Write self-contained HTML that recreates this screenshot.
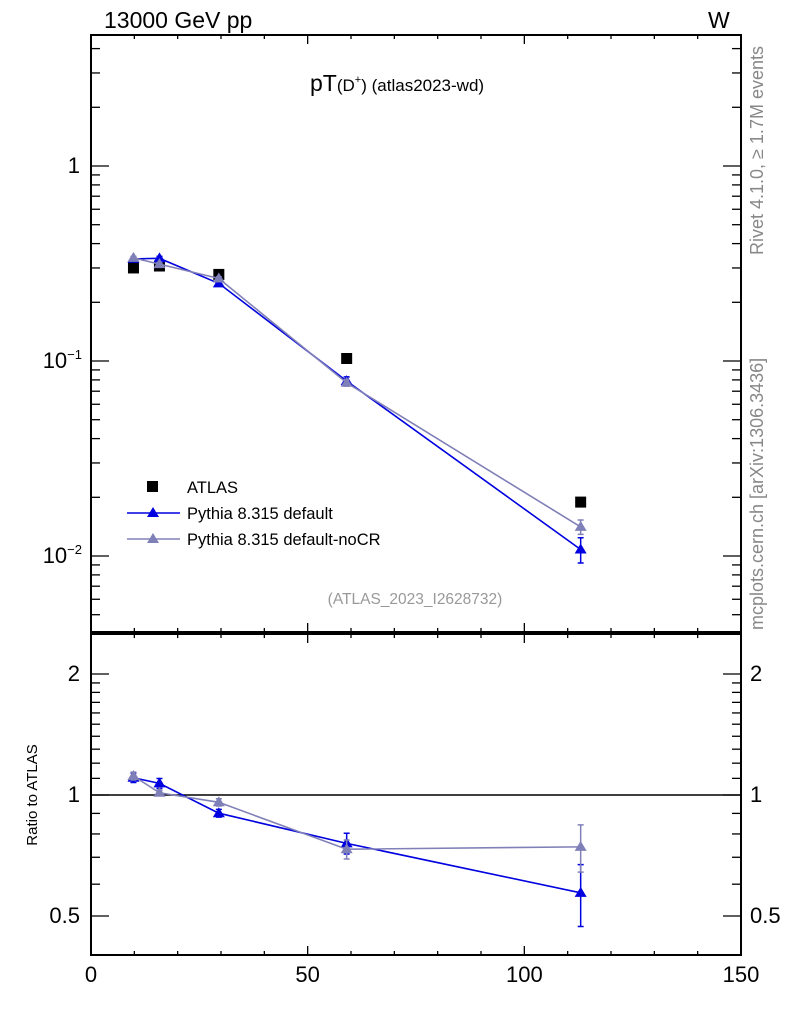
<!DOCTYPE html>
<html><head><meta charset="utf-8"><style>
body{margin:0;background:#fff;font-family:"Liberation Sans",sans-serif}
svg text{font-family:"Liberation Sans",sans-serif}
</style></head><body>
<svg id="c" width="786" height="1024" xmlns="http://www.w3.org/2000/svg">
<text x="104" y="28" font-size="23">13000 GeV pp</text>
<text x="708" y="28" font-size="23">W</text>
<text x="310" y="91" font-size="23">pT<tspan font-size="17">(D</tspan><tspan font-size="11" dy="-8">+</tspan><tspan font-size="17" dy="8">) (atlas2023-wd)</tspan></text>
<text x="415" y="604" font-size="15.5" fill="#999" text-anchor="middle">(ATLAS_2023_I2628732)</text>
<text transform="translate(763,255) rotate(-90)" font-size="18" fill="#888">Rivet 4.1.0, ≥ 1.7M events</text>
<text transform="translate(763,630) rotate(-90)" font-size="18" fill="#888">mcplots.cern.ch [arXiv:1306.3436]</text>
<text transform="translate(37,795) rotate(-90)" font-size="15" text-anchor="middle">Ratio to ATLAS</text>
<g id="axes"></g>
<g id="marks"></g>
<g>
<rect x="147" y="481" width="11" height="11" fill="#000"/>
<text x="187" y="493" font-size="16.5">ATLAS</text>
<line x1="127" y1="513" x2="180" y2="513" stroke="#0000e0" stroke-width="1.5"/>
<polygon points="153,507 147,517 159,517" fill="#0000e0"/>
<text x="187" y="519" font-size="16.5">Pythia 8.315 default</text>
<line x1="127" y1="539" x2="180" y2="539" stroke="#8080b8" stroke-width="1.5"/>
<polygon points="153,533 147,543 159,543" fill="#8080b8"/>
<text x="187" y="545" font-size="16.5">Pythia 8.315 default-noCR</text>
</g>
</svg>
<script>
const xs=[9.8,15.8,29.5,59,113];
const atlas=[0.300,0.307,0.278,0.103,0.0189];
const pyDef=[0.334,0.336,0.250,0.0789,0.0108];
const pyNoCR=[0.338,0.314,0.265,0.0773,0.0141];
const pyDefErr=[0.008,0.008,0.006,0.004,0.0016];
const pyNoCRErr=[0.006,0.006,0.005,0.003,0.0012];
const rDef=[1.104,1.069,0.901,0.758,0.571];
const rNoCR=[1.115,1.013,0.959,0.733,0.743];
const rDefErr=[0.03,0.03,0.02,0.045,0.1];
const rNoCRErr=[0.025,0.015,0.02,0.04,0.1];
const xTicks=[0,50,100,150];
const ratioTicks=[0.5,1,2];
const L=91,R=741,T=35,B=632,RT=634,RB=955;
const X=v=>L+(v/150)*(R-L);
const Y=v=>166-195*Math.log10(v);
const YR=v=>795-402*Math.log10(v);
const ns="http://www.w3.org/2000/svg";
const ax=document.getElementById('axes'),mk=document.getElementById('marks');
function mkEl(p,t,a){const e=document.createElementNS(ns,t);for(const k in a)e.setAttribute(k,a[k]);p.appendChild(e);return e;}
let f=mkEl(ax,'rect',{x:L,y:T,width:R-L,height:B-T,fill:'none',stroke:'#000','stroke-width':2});


f=mkEl(ax,'rect',{x:L,y:RT,width:R-L,height:RB-RT,fill:'none',stroke:'#000','stroke-width':2});


for(let v=0;v<=150;v+=10){const maj=v%50===0,len=maj?9:4,x=X(v);
 for(const [y,d] of [[B,-1],[T,1],[RB,-1],[RT,1]]){const t=mkEl(ax,'line',{x1:x,y1:y,x2:x,y2:y+d*len,stroke:'#000','stroke-width':1.3});
 
 }}
xTicks.forEach(v=>{const t=mkEl(ax,'text',{x:X(v),y:982,'font-size':22,'text-anchor':'middle'});t.textContent=v;
 
 });
for(let e=-3;e<=0;e++)for(let m=1;m<=9;m++){const v=m*Math.pow(10,e),y=Y(v);if(y<T||y>B)continue;const len=m===1?18:9;
 for(const [x,d] of [[L,1],[R,-1]]){const t=mkEl(ax,'line',{x1:x,y1:y,x2:x+d*len,y2:y,stroke:'#000','stroke-width':1.3});
 
 }}
[[1,'1'],[0.1,'10'],[0.01,'10']].forEach(([v,s],i)=>{const t=mkEl(ax,'text',{x:i===0?80:82,y:Y(v)+7,'font-size':22,'text-anchor':'end'});t.textContent=s;
 if(i>0){const sp=mkEl(t,'tspan',{dy:-9,'font-size':13});sp.textContent=i===1?'−1':'−2';}
 
 });
const rt=[0.5,0.6,0.7,0.8,0.9,1,1.1,1.2,1.3,1.4,1.5,1.6,1.7,1.8,1.9,2];
rt.forEach(v=>{const y=YR(v),maj=ratioTicks.includes(v),len=maj?18:9;
 for(const [x,d] of [[L,1],[R,-1]]){const t=mkEl(ax,'line',{x1:x,y1:y,x2:x+d*len,y2:y,stroke:'#000','stroke-width':1.3});
 
 }});
ratioTicks.forEach(v=>{for(const [x,a] of [[80,'end'],[750,'start']]){const t=mkEl(ax,'text',{x:x,y:YR(v)+7,'font-size':22,'text-anchor':a});t.textContent=v;
 
 }});
let one=mkEl(ax,'line',{x1:L,y1:YR(1),x2:R,y2:YR(1),stroke:'#000','stroke-width':1.5});


function series(vals,errs,yf,col,name){
 const pts=xs.map((x,i)=>X(x)+','+yf(vals[i])).join(' ');
 const l=mkEl(mk,'polyline',{points:pts,fill:'none',stroke:col,'stroke-width':1.6});
 
 
 xs.forEach((x,i)=>{const cx=X(x),cy=yf(vals[i]),y1=yf(vals[i]+errs[i]),y2=yf(vals[i]-errs[i]);
  const e=mkEl(mk,'path',{d:`M${cx},${y1}V${y2}M${cx-3},${y1}H${cx+3}M${cx-3},${y2}H${cx+3}`,stroke:col,'stroke-width':1.5,fill:'none'});
  
  
  const p=mkEl(mk,'polygon',{points:`${cx},${cy-6} ${cx-6},${cy+4} ${cx+6},${cy+4}`,fill:col});
  
  });
}
xs.forEach((x,i)=>{const r=mkEl(mk,'rect',{x:X(x)-5.5,y:Y(atlas[i])-5.5,width:11,height:11,fill:'#000'});
 
 });
series(pyDef,pyDefErr,Y,'#0000e0','default');
series(pyNoCR,pyNoCRErr,Y,'#8080b8','nocr');
series(rDef,rDefErr,YR,'#0000e0','ratio-default');
series(rNoCR,rNoCRErr,YR,'#8080b8','ratio-nocr');
</script>
</body></html>
